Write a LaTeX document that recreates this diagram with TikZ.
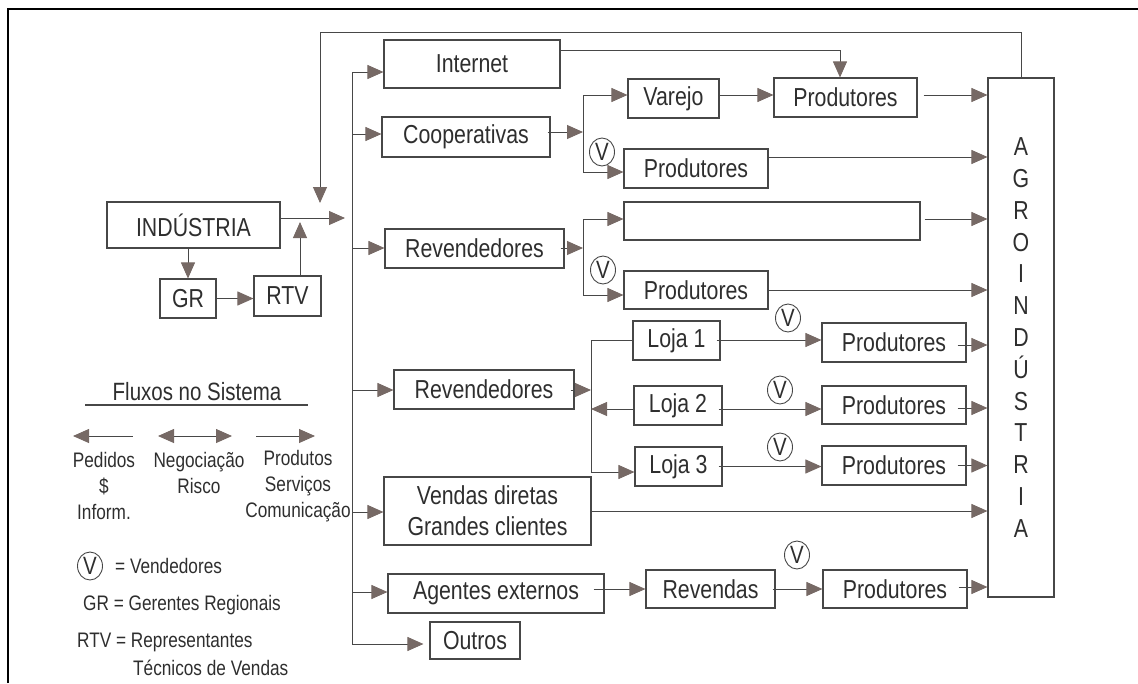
\documentclass[tikz,border=0pt]{standalone}
\usepackage{fontspec}
\setmainfont{Liberation Sans}[FakeStretch=0.82]
\usetikzlibrary{arrows.meta,shapes.geometric,calc}
\definecolor{ink}{HTML}{2E2E2E}
\definecolor{edgec}{HTML}{474747}
\definecolor{headc}{HTML}{766965}
\newcommand\mainf{\fontsize{26}{31}\selectfont}
\newcommand\legf{\fontsize{21}{26}\selectfont}
\begin{document}
\begin{tikzpicture}[x=1pt,y=-1pt,
  box/.style={draw=edgec, line width=1.1pt, inner sep=0pt, text=ink, font=\mainf},
  conn/.style={draw=edgec, line width=0.9pt},
  arr/.style={conn, -{Triangle[length=16pt,width=14pt,color=headc]}},
  larr/.style={conn, {Triangle[length=16pt,width=14pt,color=headc]}-},
  darr/.style={conn, {Triangle[length=16pt,width=14pt,color=headc]}-{Triangle[length=16pt,width=14pt,color=headc]}},
  vc/.style={ellipse, draw=edgec, line width=0.9pt, inner sep=0pt, minimum width=25pt, minimum height=28pt, text=ink, font=\fontsize{25}{26}\selectfont},
  leg/.style={text=ink, font=\legf, inner sep=0pt}]
\useasboundingbox (0,0) rectangle (1138,683);
% frame
\draw[line width=2.5pt, black] (8,683) -- (8,9) -- (1138,9);

% boxes
\node[box, minimum width=173pt, minimum height=46pt] (ind) at (193.5,225) {INDÚSTRIA};
\node[box, minimum width=56pt, minimum height=39pt] (gr) at (188,298.5) {GR};
\node[box, minimum width=67pt, minimum height=40pt] (rtv) at (287.5,296) {RTV};
\node[box, minimum width=176pt, minimum height=48pt] (int) at (472,64) {Internet};
\node[box, minimum width=168pt, minimum height=40pt] (coop) at (466,137) {Cooperativas};
\node[box, minimum width=91pt, minimum height=39pt] (varejo) at (673.5,98.5) {Varejo};
\node[box, minimum width=143pt, minimum height=39pt] (prodA) at (845.5,97.5) {Produtores};
\node[box, minimum width=144pt, minimum height=39pt] (prodB) at (696,168.5) {Produtores};
\node[box, minimum width=179pt, minimum height=39pt] (rev1) at (474.5,248.5) {Revendedores};
\node[box, minimum width=296pt, minimum height=38pt] (empty) at (772,221) {};
\node[box, minimum width=144pt, minimum height=38pt] (prodC) at (696,290) {Produtores};
\node[box, minimum width=87pt, minimum height=39pt] (loja1) at (676.5,340.5) {Loja 1};
\node[box, minimum width=180pt, minimum height=39pt] (rev2) at (484,389.5) {Revendedores};
\node[box, minimum width=88pt, minimum height=39pt] (loja2) at (678,405.5) {Loja 2};
\node[box, minimum width=87pt, minimum height=39pt] (loja3) at (678.5,466.5) {Loja 3};
\node[box, minimum width=144pt, minimum height=39pt] (prodL1) at (894,342.5) {Produtores};
\node[box, minimum width=144pt, minimum height=38pt] (prodL2) at (894,405) {Produtores};
\node[box, minimum width=144pt, minimum height=39pt] (prodL3) at (894,465.5) {Produtores};
\node[box, minimum width=207pt, minimum height=68pt, align=center] (vendas) at (487.5,511) {Vendas diretas\\Grandes clientes};
\node[box, minimum width=216pt, minimum height=39pt] (agentes) at (496,593.5) {Agentes externos};
\node[box, minimum width=129pt, minimum height=38pt] (revendas) at (710.5,589) {Revendas};
\node[box, minimum width=144pt, minimum height=38pt] (prodR) at (895,589) {Produtores};
\node[box, minimum width=90pt, minimum height=37pt] (outros) at (475,640.5) {Outros};
\node[box, minimum width=66pt, minimum height=519pt, align=center, font=\fontsize{26}{31.8}\selectfont] (agro) at (1021,337.5) {A\\G\\R\\O\\I\\N\\D\\Ú\\S\\T\\R\\I\\A};

% Industria block
\coordinate (jI) at (345,218);
\draw[arr] (ind.east |- jI) -- (jI);
\draw[arr] (ind.south -| gr.north) -- (gr.north);
\draw[arr] (gr.east) -- (gr.east -| rtv.west);
\coordinate (rtvup) at (300,222);
\draw[arr] (rtvup |- rtv.north) -- (rtvup);
\coordinate (fbtop) at (320,32);
\coordinate (fbend) at (320,203);
\draw[arr] (agro.north) |- (fbtop) -- (fbend);

% bus
\coordinate (busT) at (352,72);
\coordinate (b2) at (352,134);
\coordinate (b3) at (352,248);
\coordinate (b4) at (352,390);
\coordinate (b5) at (352,512);
\coordinate (b6) at (352,592);
\coordinate (busB) at (352,644);
\draw[conn] (busT) -- (busB);
\draw[arr] (busT) -- (int.west |- busT);
\draw[arr] (b2) -- (coop.west |- b2);
\draw[arr] (b3) -- (rev1.west |- b3);
\draw[arr] (b4) -- (rev2.west |- b4);
\draw[arr] (b5) -- (vendas.west |- b5);
\draw[arr] (b6) -- (agentes.west |- b6);
\draw[arr] (busB) -- ($(outros.west |- busB)+(-6,0)$);

% Internet
\coordinate (iturn) at (840,50);
\draw[arr] (int.east |- iturn) -| (iturn |- prodA.north);

% Cooperativas
\coordinate (s1) at (583,132);
\coordinate (s1t) at (583,95);
\coordinate (s1b) at (583,172);
\draw[arr] ($(coop.east |- s1)+(-3,0)$) -- (s1);
\draw[arr] (s1b) -- (s1t) -- (varejo.west |- s1t);
\draw[arr] (s1b) -- (prodB.west |- s1b);
\node[vc] (v1) at (602,152) {V};
\draw[arr] (varejo.east |- s1t) -- (prodA.west |- s1t);
\draw[arr] ($(prodA.east |- s1t)+(6,0)$) -- (agro.west |- s1t);
\coordinate (r2) at (988,157);
\draw[arr] (prodB.east |- r2) -- (agro.west |- r2);

% Revendedores 1
\coordinate (s2) at (583,248);
\coordinate (s2t) at (583,219);
\coordinate (s2b) at (583,295);
\draw[arr] ($(rev1.east |- s2)+(-4,0)$) -- (s2);
\draw[arr] (s2b) -- (s2t) -- (empty.west |- s2t);
\draw[arr] (s2b) -- (prodC.west |- s2b);
\node[vc] (v2) at (603,270) {V};
\draw[arr] ($(empty.east |- s2t)+(4,0)$) -- (agro.west |- s2t);
\draw[arr] (prodC.east) -- (agro.west |- prodC.east);

% Revendedores 2
\coordinate (s3) at (591,390);
\coordinate (s3t) at (591,340);
\coordinate (s3m) at (591,409);
\coordinate (s3b) at (591,472);
\draw[arr] ($(rev2.east |- s3)+(-4,0)$) -- (s3);
\draw[conn] (loja1.west |- s3t) -- (s3t) -- (s3b);
\draw[arr] (s3b) -- (loja3.west |- s3b);
\draw[arr] (loja2.west |- s3m) -- (s3m);
\draw[arr] ($(loja1.east |- s3t)+(-4,0)$) -- (prodL1.west |- s3t);
\draw[arr] ($(loja2.east |- s3m)+(-4,0)$) -- (prodL2.west |- s3m);
\draw[arr] ($(loja3.east)+(-4,0)$) -- (prodL3.west |- loja3.east);
\node[vc] (v3) at (788,318) {V};
\node[vc] (v4) at (780,390) {V};
\node[vc] (v5) at (780,447) {V};
\draw[arr] ($(prodL1.east)+(-9,2.5)$) -- ($(agro.west |- prodL1.east)+(0,2.5)$);
\draw[arr] ($(prodL2.east)+(-9,3)$) -- ($(agro.west |- prodL2.east)+(0,3)$);
\draw[arr] ($(prodL3.east)+(-9,0)$) -- (agro.west |- prodL3.east);

% Vendas diretas
\draw[arr] (vendas.east) -- (agro.west |- vendas.east);

% Agentes externos
\draw[arr] ($(agentes.east |- revendas.west)+(-11,0)$) -- (revendas.west);
\draw[arr] ($(revendas.east)+(-3,0)$) -- (prodR.west |- revendas.east);
\node[vc] (v6) at (797,555) {V};
\draw[arr] ($(prodR.east)+(-9,-2)$) -- ($(agro.west |- prodR.east)+(0,-2)$);

% legend
\node[text=ink, font=\fontsize{25}{28}\selectfont, inner sep=0pt] (ltitle) at (197,392) {Fluxos no Sistema};
\coordinate (ul1) at (85,405);
\coordinate (ul2) at (308,405);
\draw[line width=2pt, edgec] (ul1) -- (ul2);
\coordinate (la1) at (73,436);
\coordinate (la2) at (133,436);
\coordinate (lb1) at (158,436);
\coordinate (lb2) at (232,436);
\coordinate (lc1) at (256,436);
\coordinate (lc2) at (315,436);
\draw[larr] (la1) -- (la2);
\draw[darr] (lb1) -- (lb2);
\draw[arr] (lc1) -- (lc2);
\node[leg, align=center] (lpa) at (104,486) {Pedidos\\\$\\Inform.};
\node[leg, align=center] (lpb) at (199,473) {Negociação\\Risco};
\node[leg, align=center] (lpc) at (298,486) {Produtos\\Serviços\\Comunicação};
\node[vc] (lv) at (90,566) {V};
\node[leg, anchor=west] (lvt) at (115,566) {= Vendedores};
\node[leg, anchor=west] (lgr) at (83,605) {GR = Gerentes Regionais};
\node[leg, anchor=west] (lrtv) at (77,642) {RTV = Representantes};
\node[leg, anchor=west] (lrtv2) at (133,668) {Técnicos de Vendas};
\end{tikzpicture}
\end{document}
